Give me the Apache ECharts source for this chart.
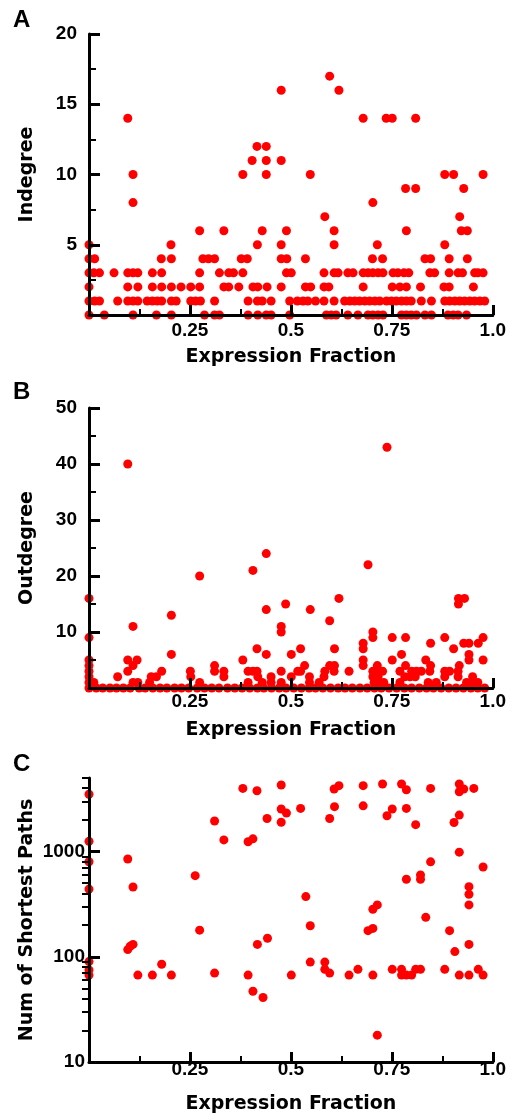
<!DOCTYPE html>
<html>
<head>
<meta charset="utf-8">
<script src="https://cdn.jsdelivr.net/npm/echarts@6/dist/echarts.min.js"></script>
<style>
html,body{margin:0;padding:0;background:#fff;}
#chart{width:509px;height:1118px;}
</style>
</head>
<body>
<div id="chart"></div>
<script>
// ---------- DATA ----------
var panelLetters = ['A', 'B', 'C'];
var xAxisTitle = 'Expression Fraction';
var yAxisTitles = ['Indegree', 'Outdegree', 'Num of Shortest Paths'];
var logMajorTicks = [10, 100, 1000];
var logMinorTicks = [20, 30, 40, 50, 60, 70, 80, 90, 200, 300, 400, 500, 600, 700, 800, 900, 2000, 3000, 4000, 5000];

// Panel A: [expression fraction, indegree]
var indegreePoints = [
  [0.596,17],[0.476,16],[0.619,16],
  [0.096,14],[0.679,14],[0.736,14],[0.751,14],[0.809,14],
  [0.416,12],[0.439,12],
  [0.404,11],[0.439,11],[0.476,11],
  [0.109,10],[0.381,10],[0.439,10],[0.548,10],[0.881,10],[0.903,10],[0.976,10],
  [0.784,9],[0.809,9],[0.928,9],
  [0.109,8],[0.703,8],
  [0.584,7],[0.918,7],
  [0.274,6],[0.334,6],[0.429,6],[0.489,6],[0.607,6],[0.786,6],[0.922,6],[0.937,6],
  [0.0,5],[0.203,5],[0.417,5],[0.476,5],[0.607,5],[0.714,5],[0.881,5],
  [0.0,4],[0.014,4],[0.179,4],[0.204,4],[0.282,4],[0.296,4],[0.311,4],[0.377,4],[0.392,4],[0.476,4],[0.49,4],[0.536,4],[0.702,4],[0.727,4],[0.832,4],[0.846,4],[0.892,4],[0.937,4],
  [0.0,3],[0.012,3],[0.026,3],[0.062,3],[0.096,3],[0.109,3],[0.121,3],[0.157,3],[0.18,3],[0.274,3],[0.323,3],[0.346,3],[0.358,3],[0.381,3],[0.489,3],[0.501,3],[0.582,3],[0.607,3],[0.617,3],[0.641,3],[0.654,3],[0.679,3],[0.691,3],[0.703,3],[0.716,3],[0.728,3],[0.753,3],[0.765,3],[0.78,3],[0.792,3],[0.844,3],[0.856,3],[0.892,3],[0.914,3],[0.925,3],[0.955,3],[0.963,3],[0.976,3],
  [0.0,2],[0.096,2],[0.121,2],[0.157,2],[0.18,2],[0.204,2],[0.228,2],[0.252,2],[0.274,2],[0.334,2],[0.346,2],[0.371,2],[0.406,2],[0.418,2],[0.441,2],[0.476,2],[0.536,2],[0.549,2],[0.582,2],[0.594,2],[0.679,2],[0.751,2],[0.77,2],[0.786,2],[0.821,2],[0.879,2],[0.892,2],[0.952,2],
  [0.0,1],[0.014,1],[0.026,1],[0.071,1],[0.096,1],[0.109,1],[0.121,1],[0.144,1],[0.157,1],[0.169,1],[0.18,1],[0.204,1],[0.216,1],[0.252,1],[0.264,1],[0.276,1],[0.311,1],[0.394,1],[0.417,1],[0.429,1],[0.451,1],[0.497,1],[0.516,1],[0.53,1],[0.542,1],[0.561,1],[0.582,1],[0.607,1],[0.633,1],[0.646,1],[0.658,1],[0.67,1],[0.683,1],[0.695,1],[0.708,1],[0.72,1],[0.737,1],[0.749,1],[0.761,1],[0.774,1],[0.786,1],[0.798,1],[0.823,1],[0.848,1],[0.881,1],[0.893,1],[0.906,1],[0.918,1],[0.93,1],[0.943,1],[0.955,1],[0.968,1],[0.98,1],
  [0.0,0],[0.038,0],[0.109,0],[0.167,0],[0.204,0],[0.286,0],[0.311,0],[0.323,0],[0.394,0],[0.418,0],[0.439,0],[0.451,0],[0.497,0],[0.588,0],[0.6,0],[0.612,0],[0.641,0],[0.666,0],[0.691,0],[0.703,0],[0.716,0],[0.728,0],[0.774,0],[0.786,0],[0.798,0],[0.811,0],[0.832,0],[0.848,0],[0.889,0],[0.902,0],[0.914,0],[0.935,0]
];

// Panel B: [expression fraction, outdegree]
var outdegreePoints = [
  [0.738,43],[0.096,40],[0.439,24],[0.691,22],[0.406,21],[0.274,20],
  [0.0,16],[0.619,16],[0.915,16],[0.93,16],
  [0.487,15],[0.915,15],
  [0.439,14],[0.548,14],[0.204,13],[0.596,12],
  [0.109,11],[0.476,11],[0.476,10],[0.703,10],
  [0.0,9],[0.703,9],[0.751,9],[0.784,9],[0.881,9],[0.976,9],
  [0.679,8],[0.846,8],[0.928,8],[0.941,8],[0.964,8],
  [0.416,7],[0.524,7],[0.608,7],[0.679,7],[0.903,7],
  [0.204,6],[0.439,6],[0.501,6],[0.774,6],[0.941,6],
  [0.0,5],[0.096,5],[0.119,5],[0.381,5],[0.679,5],[0.751,5],[0.834,5],[0.941,5],[0.976,5],
  [0.0,4],[0.109,4],[0.311,4],[0.534,4],[0.596,4],[0.608,4],[0.679,4],[0.714,4],[0.784,4],[0.846,4],[0.917,4],
  [0.0,3],[0.096,3],[0.18,3],[0.251,3],[0.311,3],[0.334,3],[0.394,3],[0.406,3],[0.416,3],[0.476,3],[0.517,3],[0.524,3],[0.584,3],[0.607,3],[0.644,3],[0.703,3],[0.714,3],[0.727,3],[0.77,3],[0.799,3],[0.811,3],[0.823,3],[0.844,3],[0.881,3],[0.893,3],[0.914,3],
  [0.0,2],[0.071,2],[0.154,2],[0.167,2],[0.252,2],[0.334,2],[0.418,2],[0.451,2],[0.501,2],[0.546,2],[0.582,2],[0.703,2],[0.716,2],[0.782,2],[0.795,2],[0.808,2],[0.881,2],[0.914,2],[0.95,2],
  [0.0,1],[0.012,1],[0.109,1],[0.121,1],[0.15,1],[0.274,1],[0.394,1],[0.429,1],[0.451,1],[0.476,1],[0.546,1],[0.57,1],[0.706,1],[0.72,1],[0.73,1],[0.77,1],[0.84,1],[0.86,1],[0.935,1],[0.952,1],[0.963,1],
  [0.0,0],[0.018,0],[0.034,0],[0.052,0],[0.068,0],[0.085,0],[0.102,0],[0.124,0],[0.139,0],[0.158,0],[0.176,0],[0.193,0],[0.212,0],[0.229,0],[0.247,0],[0.268,0],[0.286,0],[0.304,0],[0.322,0],[0.343,0],[0.361,0],[0.379,0],[0.398,0],[0.417,0],[0.433,0],[0.452,0],[0.471,0],[0.488,0],[0.507,0],[0.526,0],[0.545,0],[0.561,0],[0.579,0],[0.598,0],[0.617,0],[0.634,0],[0.652,0],[0.671,0],[0.689,0],[0.707,0],[0.724,0],[0.743,0],[0.762,0],[0.781,0],[0.799,0],[0.818,0],[0.836,0],[0.853,0],[0.872,0],[0.891,0],[0.909,0],[0.927,0],[0.946,0],[0.963,0],[0.98,0]
];

// Panel C: [expression fraction, number of shortest paths]
var pathPoints = [
  [0.0,3500],[0.0,1250],[0.0,800],[0.0,440],[0.0,90],[0.0,75],[0.0,67],
  [0.096,850],[0.109,460],[0.263,590],[0.311,1950],[0.334,1290],[0.381,3980],[0.394,1240],[0.406,1320],[0.416,3780],
  [0.441,2060],[0.476,4290],[0.476,2540],[0.489,2320],[0.476,1900],[0.524,2570],[0.537,373],[0.596,2060],
  [0.607,3930],[0.619,4230],[0.608,2670],[0.679,4230],[0.679,2720],[0.727,4390],[0.738,2190],[0.751,2540],
  [0.774,4390],[0.786,3870],[0.786,2570],[0.809,1800],[0.703,283],[0.714,311],[0.786,546],[0.821,600],[0.821,546],
  [0.834,237],[0.846,3980],[0.846,798],[0.904,1890],[0.917,4390],[0.917,3700],[0.928,3930],[0.917,2220],[0.917,987],
  [0.953,3980],[0.941,464],[0.941,393],[0.941,311],[0.976,714],
  [0.274,179],[0.096,117],[0.102,126],[0.109,131],[0.121,67],[0.157,67],[0.18,85],[0.204,67],[0.311,70],
  [0.394,67],[0.406,47],[0.417,131],[0.431,41],[0.442,150],[0.501,67],[0.548,197],[0.548,89],[0.584,89],
  [0.584,76],[0.596,70],[0.644,67],[0.666,76],[0.703,67],[0.691,177],[0.703,186],[0.714,18],[0.751,76],
  [0.774,76],[0.774,67],[0.786,67],[0.799,67],[0.809,76],[0.821,76],[0.881,76],[0.893,177],[0.906,112],
  [0.917,67],[0.941,67],[0.941,131],[0.964,76],[0.976,67]
];

// ---------- CHART ----------
var chart = echarts.init(document.getElementById('chart'), null, {renderer: 'canvas'});
var BLACK = '#000';
var RED = '#ff0000';
var tickFont = {fontFamily: 'Liberation Sans, Arial, sans-serif', fontWeight: 'bold', fontSize: 19, color: BLACK};
var nameFont = {fontFamily: 'DejaVu Sans', fontWeight: 'bold', fontSize: 19, color: BLACK};

var grids = [
  {left: 89, top: 34, width: 404, height: 281},
  {left: 89, top: 408, width: 404, height: 280},
  {left: 89, top: 778, width: 404, height: 284}
];

function xAxisFor(i, labelMargin) {
  return {
    type: 'value', gridIndex: i, min: 0, max: 1, interval: 0.25, z: 5,
    name: xAxisTitle, nameLocation: 'middle', nameGap: 33, nameMoveOverlap: false, nameTextStyle: nameFont,
    axisLine: {show: true, onZero: false, lineStyle: {color: BLACK, width: 3}},
    axisTick: {show: true, inside: true, length: 10, lineStyle: {color: BLACK, width: 3}},
    minorTick: {show: true, splitNumber: 2, length: 6, lineStyle: {color: BLACK, width: 2}},
    splitLine: {show: false}, minorSplitLine: {show: false},
    axisLabel: Object.assign({show: true, margin: labelMargin, showMinLabel: false,
      formatter: function (v) { return v === 1 ? '1.0' : String(v); }}, tickFont)
  };
}

function linearY(i, max, interval, title) {
  return {
    type: 'value', gridIndex: i, min: 0, max: max, interval: interval, z: 5,
    name: title, nameLocation: 'middle', nameGap: 52, nameRotate: 90, nameMoveOverlap: false, nameTextStyle: nameFont,
    axisLine: {show: true, onZero: false, lineStyle: {color: BLACK, width: 3}},
    axisTick: {show: true, inside: true, length: 11, lineStyle: {color: BLACK, width: 3}},
    minorTick: {show: true, splitNumber: 2, length: 7, lineStyle: {color: BLACK, width: 2}},
    splitLine: {show: false}, minorSplitLine: {show: false},
    axisLabel: Object.assign({show: true, margin: 12, showMinLabel: false}, tickFont)
  };
}

var option = {
  backgroundColor: '#fff',
  animation: false,
  grid: grids,
  xAxis: [xAxisFor(0, 6), xAxisFor(1, 4), xAxisFor(2, -2)],
  yAxis: [
    linearY(0, 20, 5, yAxisTitles[0]),
    linearY(1, 50, 10, yAxisTitles[1]),
    {
      type: 'log', logBase: 10, gridIndex: 2, min: 10, max: 5000, z: 5,
      name: yAxisTitles[2], nameLocation: 'middle', nameGap: 52, nameRotate: 90, nameMoveOverlap: false, nameTextStyle: nameFont,
      axisLine: {show: true, onZero: false, lineStyle: {color: BLACK, width: 3}},
      axisTick: {show: true, inside: true, length: 11, customValues: logMajorTicks, lineStyle: {color: BLACK, width: 3}},
      splitLine: {show: false},
      axisLabel: Object.assign({show: true, margin: 4, customValues: logMajorTicks,
        formatter: function (v) { return String(Math.round(v)); }}, tickFont)
    },
    {
      type: 'log', logBase: 10, gridIndex: 2, min: 10, max: 5000, z: 5,
      axisLine: {show: false},
      axisTick: {show: true, inside: true, length: 7, customValues: logMinorTicks, lineStyle: {color: BLACK, width: 2}},
      splitLine: {show: false},
      axisLabel: {show: false}
    }
  ],
  graphic: panelLetters.map(function (t, i) {
    var ys = [11, 383, 755];
    return {
      type: 'text', left: 13, top: ys[i] - 3,
      style: {text: t, fill: BLACK, font: 'bold 24px "Liberation Sans", Arial, sans-serif'}
    };
  }),
  series: [
    {type: 'scatter', xAxisIndex: 0, yAxisIndex: 0, data: indegreePoints, symbolSize: 9, clip: false,
      itemStyle: {color: RED, opacity: 1}},
    {type: 'scatter', xAxisIndex: 1, yAxisIndex: 1, data: outdegreePoints, symbolSize: 9, clip: false,
      itemStyle: {color: RED, opacity: 1}},
    {type: 'scatter', xAxisIndex: 2, yAxisIndex: 2, data: pathPoints, symbolSize: 9, clip: false,
      itemStyle: {color: RED, opacity: 1}}
  ]
};
chart.setOption(option);
</script>
</body>
</html>
